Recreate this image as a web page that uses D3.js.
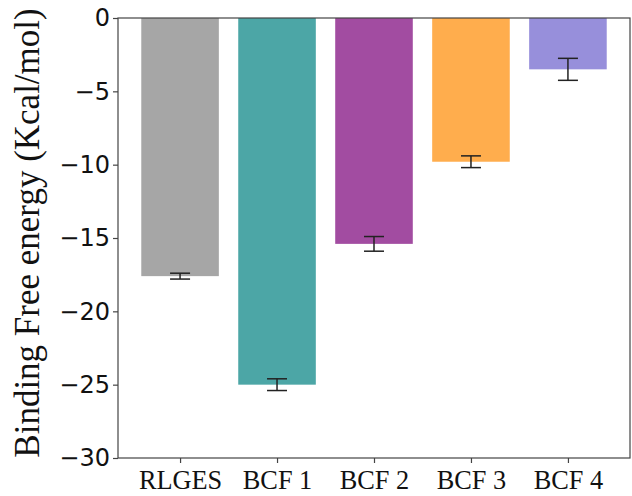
<!DOCTYPE html>
<html><head><meta charset="utf-8">
<script src="https://cdn.jsdelivr.net/npm/d3@7"></script>
<style>body{margin:0;background:#fff}</style>
</head><body>
<svg id="c" width="632" height="496"></svg>
<script>
const categories = ["RLGES", "BCF 1", "BCF 2", "BCF 3", "BCF 4"];
const values = [-17.6, -25.0, -15.4, -9.8, -3.5];
const errors = [0.2, 0.4, 0.5, 0.4, 0.75];
const colors = ["#a6a6a6", "#4ca6a6", "#a24ca1", "#ffad4d", "#978fdb"];
const yTicks = [0, -5, -10, -15, -20, -25, -30];

const svg = d3.select("#c");
const L = 118, R = 630, T = 18, B = 458;
const x = d3.scaleLinear().domain([-0.64, 4.64]).range([L, R]);
const y = d3.scaleLinear().domain([-30, 0]).range([B, T]);
const bw = x(0.8) - x(0);

const g = svg.append("g");
g.selectAll("rect.bar").data(values).join("rect")
  .attr("x", (d, i) => x(i - 0.4))
  .attr("width", bw)
  .attr("y", y(0))
  .attr("height", d => y(d) - y(0))
  .attr("fill", (d, i) => colors[i]);

const eb = g.selectAll("g.err").data(values).join("g").attr("stroke", "#222").attr("stroke-width", 1.5);
eb.append("line").attr("x1", (d, i) => x(i)).attr("x2", (d, i) => x(i))
  .attr("y1", (d, i) => y(d - errors[i])).attr("y2", (d, i) => y(d + errors[i]));
eb.append("line").attr("x1", (d, i) => x(i) - 10).attr("x2", (d, i) => x(i) + 10)
  .attr("y1", (d, i) => y(d - errors[i])).attr("y2", (d, i) => y(d - errors[i]));
eb.append("line").attr("x1", (d, i) => x(i) - 10).attr("x2", (d, i) => x(i) + 10)
  .attr("y1", (d, i) => y(d + errors[i])).attr("y2", (d, i) => y(d + errors[i]));

// frame
svg.append("rect").attr("x", L).attr("y", T).attr("width", R - L).attr("height", B - T)
  .attr("fill", "none").attr("stroke", "#444").attr("stroke-width", 1.2);

const yAxis = d3.axisLeft(y).tickValues(yTicks).tickSize(5).tickPadding(3)
  .tickFormat(d => d3.format("d")(d).replace("-", "\u2212"));
const ya = svg.append("g").attr("transform", `translate(${L},0)`).call(yAxis);
ya.select(".domain").remove();
ya.selectAll("line").attr("stroke", "#444").attr("stroke-width", 1.2);
ya.selectAll("text").attr("font-family", "DejaVu Sans").attr("font-size", 24).attr("fill", "#111");

const xAxis = d3.axisBottom(x).tickValues(d3.range(categories.length)).tickSize(5).tickPadding(7)
  .tickFormat(i => categories[i]);
const xa = svg.append("g").attr("transform", `translate(0,${B})`).call(xAxis);
xa.select(".domain").remove();
xa.selectAll("line").attr("stroke", "#444").attr("stroke-width", 1.2);
xa.selectAll("text").attr("font-family", "Liberation Serif").attr("font-size", 28).attr("fill", "#111")
  .attr("dy", null).attr("y", 31).attr("transform", "scale(0.94,1)");

svg.append("text").attr("transform", `translate(39,${(T + B) / 2 - 5}) rotate(-90)`)
  .attr("text-anchor", "middle").attr("font-family", "Liberation Serif").attr("font-size", 35)
  .attr("fill", "#111").text("Binding Free energy (Kcal/mol)");
</script>
</body></html>
